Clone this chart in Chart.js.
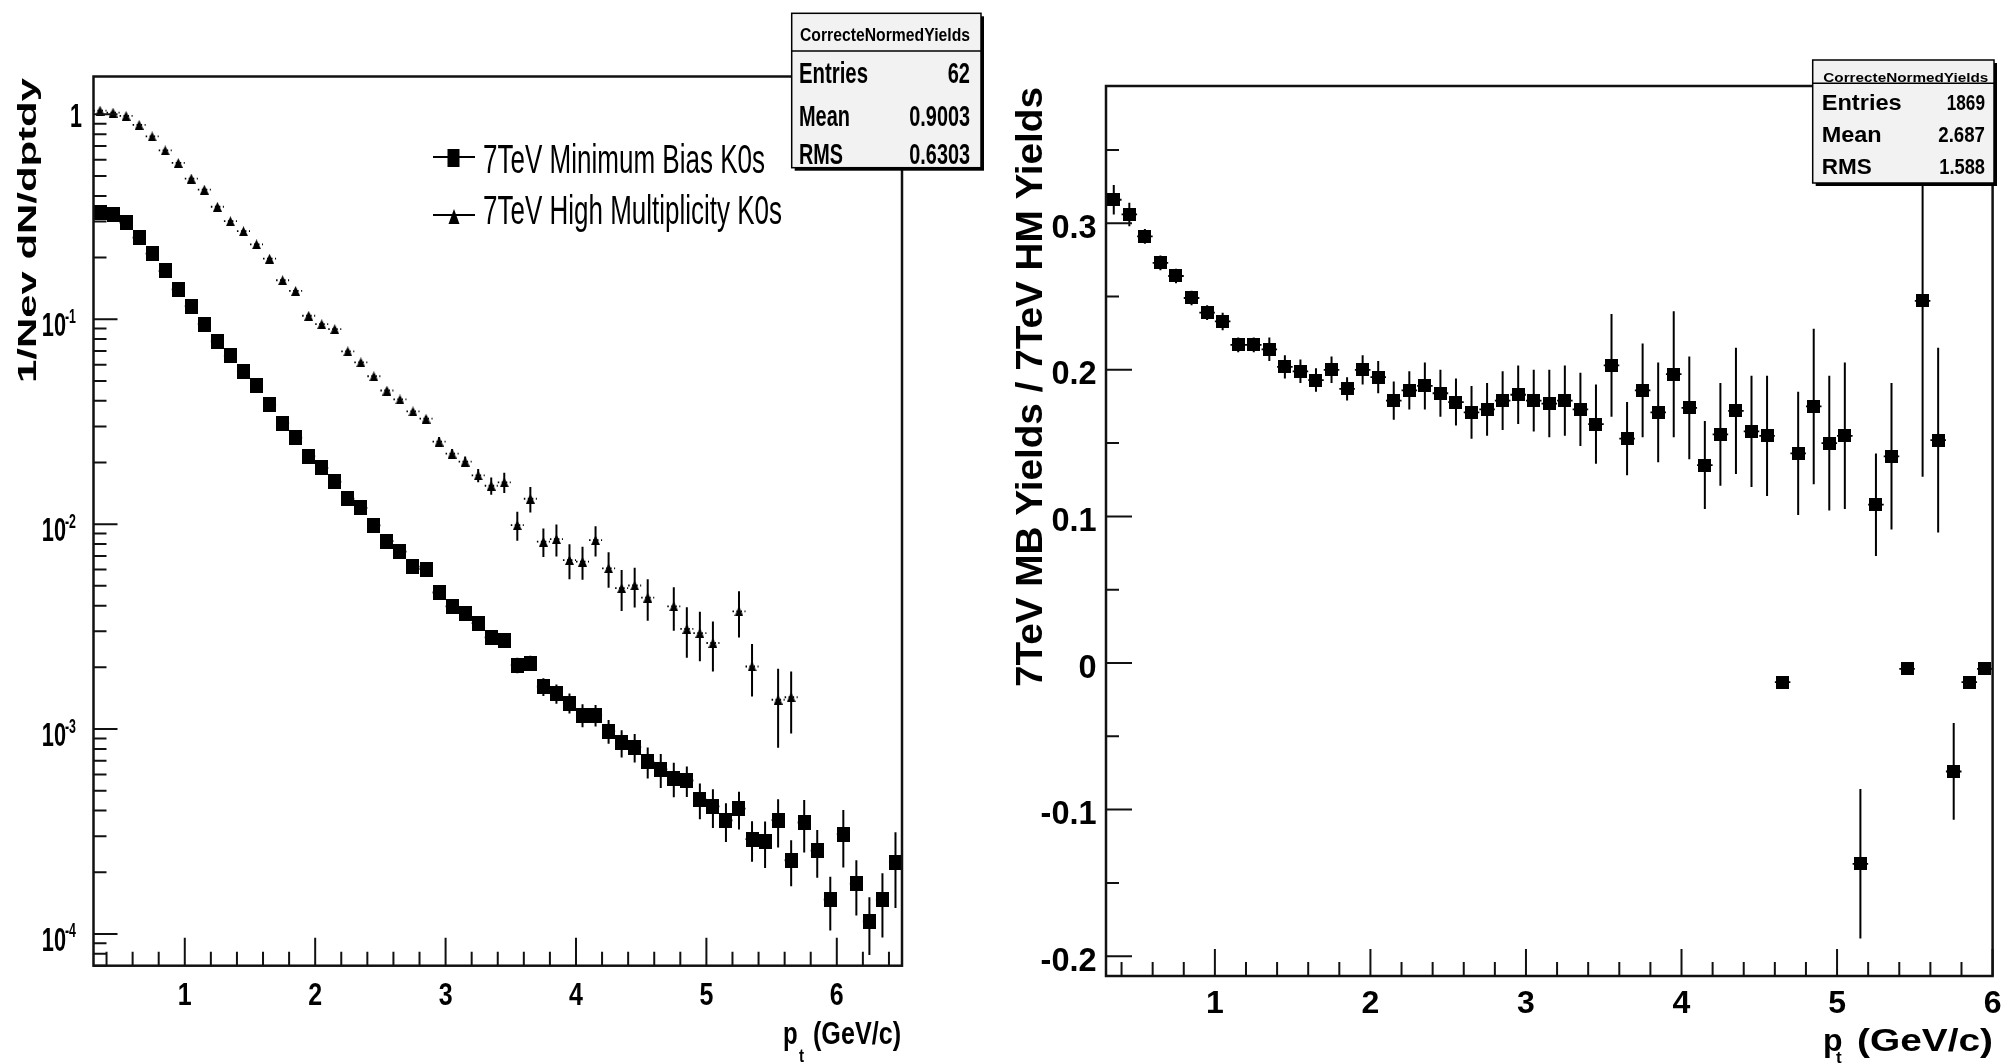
<!DOCTYPE html>
<html>
<head>
<meta charset="utf-8">
<script src="https://cdn.jsdelivr.net/npm/chart.js@4.4.1/dist/chart.umd.min.js"></script>
<style>
  html, body { margin: 0; padding: 0; background: #fff; }
  body { width: 2003px; height: 1063px; position: relative; overflow: hidden; }
  canvas { position: absolute; top: 0; }
  #left { left: 0; }
  #right { left: 1000px; }
</style>
</head>
<body>
<canvas id="left" width="1000" height="1063"></canvas>
<canvas id="right" width="1003" height="1063"></canvas>
<script>
// bin centres, pt in GeV/c
const ptLeft = [0.35, 0.45, 0.55, 0.65, 0.75, 0.85, 0.95, 1.05, 1.15, 1.25,
  1.35, 1.45, 1.55, 1.65, 1.75, 1.85, 1.95, 2.05, 2.15, 2.25,
  2.35, 2.45, 2.55, 2.65, 2.75, 2.85, 2.95, 3.05, 3.15, 3.25,
  3.35, 3.45, 3.55, 3.65, 3.75, 3.85, 3.95, 4.05, 4.15, 4.25,
  4.35, 4.45, 4.55, 4.65, 4.75, 4.85, 4.95, 5.05, 5.15, 5.25,
  5.35, 5.45, 5.55, 5.65, 5.75, 5.85, 5.95, 6.05, 6.15, 6.25,
  6.35, 6.45];

// 7TeV minimum bias K0s yields
const mbYield = [0.333, 0.324, 0.296, 0.250, 0.209, 0.172, 0.140, 0.116, 0.0946, 0.0780,
  0.0664, 0.0555, 0.0474, 0.0382, 0.0311, 0.0264, 0.0215, 0.0188, 0.0161, 0.0133,
  0.0120, 0.00987, 0.00826, 0.00734, 0.00621, 0.00604, 0.00464, 0.00397, 0.00368, 0.00329,
  0.00280, 0.00271, 0.00205, 0.00210, 0.00161, 0.00149, 0.00134, 0.00117, 0.00117, 0.000977,
  0.000857, 0.000817, 0.000693, 0.000636, 0.000575, 0.000561, 0.000453, 0.000419, 0.000358, 0.000409,
  0.000290, 0.000282, 0.000359, 0.000229, 0.000350, 0.000255, 0.000147, 0.000307, 0.000176, 0.000115,
  0.000147, 0.000224];
const mbErr = [0.005, 0.005, 0.0045, 0.004, 0.0035, 0.003, 0.0025, 0.002, 0.0018, 0.0015,
  0.0013, 0.0011, 0.001, 0.0008, 0.0007, 0.0006, 0.0005, 0.00045, 0.0004, 0.00035,
  0.0004, 0.00035, 0.0003, 0.00028, 0.00025, 0.00025, 0.00022, 0.0002, 0.0002, 0.00019,
  0.0002, 0.0002, 0.00018, 0.00018, 0.00016, 0.00016, 0.00015, 0.00015, 0.00014, 0.00013,
  0.00013, 0.00013, 0.00012, 0.00012, 0.00011, 0.000095, 0.00009, 0.00009, 0.000077, 0.000086,
  0.000065, 0.000072, 0.000095, 0.000058, 0.0001, 0.000067, 0.000043, 0.000096, 0.000053, 0.000036,
  0.000051, 0.00009];

// 7TeV high multiplicity K0s yields (null = bin not shown on log axis)
const hmYield = [1.043, 1.020, 0.983, 0.889, 0.780, 0.667, 0.579, 0.486, 0.429, 0.354,
  0.301, 0.269, 0.232, 0.1975, 0.155, 0.1375, 0.104, 0.0946, 0.0895, 0.0697,
  0.0616, 0.0527, 0.0449, 0.0406, 0.0355, 0.0327, 0.0253, 0.0221, 0.0202, 0.0173,
  0.0154, 0.0160, 0.00989, 0.0133, 0.00821, 0.00846, 0.00668, 0.00656, 0.00836, 0.00609,
  0.00487, 0.00502, 0.00438, null, 0.00397, 0.00308, 0.00294, 0.00263, null, 0.00375,
  0.00202, null, 0.00139, 0.00143, null, null, null, null, null, null,
  null, null];
const hmErr = [0.01, 0.01, 0.01, 0.009, 0.008, 0.007, 0.006, 0.005, 0.0045, 0.004,
  0.0035, 0.003, 0.0028, 0.0025, 0.002, 0.002, 0.0025, 0.0023, 0.0022, 0.0018,
  0.0016, 0.0014, 0.0012, 0.0011, 0.001, 0.001, 0.0013, 0.0012, 0.0012, 0.0013,
  0.0015, 0.0018, 0.0016, 0.0019, 0.0013, 0.0015, 0.0013, 0.0012, 0.0014, 0.0012,
  0.0011, 0.0011, 0.001, null, 0.00095, 0.00085, 0.0008, 0.00072, null, 0.00095,
  0.00058, null, 0.00058, 0.00048, null, null, null, null, null, null,
  null, null];

const ptRight = [0.35, 0.45, 0.55, 0.65, 0.75, 0.85, 0.95, 1.05, 1.15, 1.25,
  1.35, 1.45, 1.55, 1.65, 1.75, 1.85, 1.95, 2.05, 2.15, 2.25,
  2.35, 2.45, 2.55, 2.65, 2.75, 2.85, 2.95, 3.05, 3.15, 3.25,
  3.35, 3.45, 3.55, 3.65, 3.75, 3.85, 3.95, 4.05, 4.15, 4.25,
  4.35, 4.45, 4.55, 4.65, 4.75, 4.85, 4.95, 5.05, 5.15, 5.25,
  5.35, 5.45, 5.55, 5.65, 5.75, 5.85, 5.95];

// MB / HM ratio
const ratio = [0.316, 0.306, 0.291, 0.273, 0.264, 0.249, 0.239, 0.233, 0.217, 0.217,
  0.214, 0.202, 0.199, 0.193, 0.200, 0.187, 0.200, 0.195, 0.179, 0.186,
  0.189, 0.184, 0.178, 0.171, 0.173, 0.179, 0.183, 0.179, 0.177, 0.179,
  0.173, 0.163, 0.203, 0.153, 0.186, 0.171, 0.197, 0.174, 0.135, 0.156,
  0.172, 0.158, 0.155, -0.013, 0.143, 0.175, 0.150, 0.155, -0.137, 0.108,
  0.141, -0.004, 0.247, 0.152, -0.074, -0.013, -0.004];
const ratioErr = [0.010, 0.008, 0.005, 0.005, 0.005, 0.005, 0.005, 0.006, 0.005, 0.005,
  0.008, 0.008, 0.008, 0.008, 0.009, 0.008, 0.010, 0.011, 0.013, 0.013,
  0.016, 0.016, 0.016, 0.018, 0.018, 0.020, 0.020, 0.021, 0.023, 0.024,
  0.025, 0.027, 0.035, 0.025, 0.032, 0.034, 0.043, 0.035, 0.030, 0.035,
  0.043, 0.038, 0.041, 0.003, 0.042, 0.053, 0.046, 0.050, 0.051, 0.035,
  0.050, 0.003, 0.120, 0.063, 0.033, 0.003, 0.003];

// axis labels
const leftDecades = [0, -1, -2, -3, -4];
const xTickLabels = [1, 2, 3, 4, 5, 6];
const ratioTicks = [-0.2, -0.1, 0, 0.1, 0.2, 0.3];
const ratioTickText = ['-0.2', '-0.1', '0', '0.1', '0.2', '0.3'];

const legendNames = ['7TeV Minimum Bias K0s', '7TeV High Multiplicity K0s'];
const statsTitle = 'CorrecteNormedYields';
const statsLeft = [['Entries', '62'], ['Mean', '0.9003'], ['RMS', '0.6303']];
const statsRight = [['Entries', '1869'], ['Mean', '2.687'], ['RMS', '1.588']];

const FONT = '"Liberation Sans", Arial, Helvetica, sans-serif';

function pts(xs, ys, es) {
  const out = [];
  xs.forEach((x, i) => {
    if (ys[i] !== null) out.push({ x: x, y: ys[i], e: es[i] });
  });
  return out;
}

// small marker images (ROOT markers are not quite square here)
function boxMarker(w, h) {
  const c = document.createElement('canvas');
  c.width = w; c.height = h;
  const g = c.getContext('2d');
  g.fillStyle = '#000';
  g.fillRect(0, 0, w, h);
  return c;
}
function triMarker(w, h) {
  const c = document.createElement('canvas');
  c.width = w; c.height = h;
  const g = c.getContext('2d');
  g.fillStyle = '#000';
  g.beginPath();
  g.moveTo(w / 2, 0); g.lineTo(w, h); g.lineTo(0, h);
  g.closePath();
  g.fill();
  return c;
}

// text with its cap height centred on cy, optionally squeezed to a width
function label(ctx, s, x, cy, size, o) {
  o = o || {};
  ctx.save();
  ctx.font = (o.weight || 'bold') + ' ' + size + 'px ' + FONT;
  ctx.fillStyle = '#000';
  ctx.textBaseline = 'alphabetic';
  ctx.textAlign = 'left';
  const w = ctx.measureText(s).width;
  const sx = o.width ? o.width / w : (o.sx || 1);
  const ww = w * sx;
  let x0 = x;
  if (o.align === 'right') x0 = x - ww;
  else if (o.align === 'center') x0 = x - ww / 2;
  ctx.translate(x0, cy + 0.358 * size);
  ctx.scale(sx, 1);
  ctx.fillText(s, 0, 0);
  ctx.restore();
}

function vlabel(ctx, s, xBase, yStart, size, len) {
  ctx.save();
  ctx.font = 'bold ' + size + 'px ' + FONT;
  ctx.fillStyle = '#000';
  ctx.textBaseline = 'alphabetic';
  const w = ctx.measureText(s).width;
  ctx.translate(xBase, yStart);
  ctx.rotate(-Math.PI / 2);
  ctx.scale(len / w, 1);
  ctx.fillText(s, 0, 0);
  ctx.restore();
}

function statBox(ctx, b, rows) {
  ctx.save();
  ctx.fillStyle = '#000';
  ctx.fillRect(b.x + 3, b.y + 3, b.w, b.h);
  ctx.fillStyle = '#f2f2f2';
  ctx.fillRect(b.x, b.y, b.w, b.h);
  ctx.strokeStyle = '#000';
  ctx.lineWidth = 1.5;
  ctx.strokeRect(b.x, b.y, b.w, b.h);
  ctx.beginPath();
  ctx.moveTo(b.x, b.sep);
  ctx.lineTo(b.x + b.w, b.sep);
  ctx.stroke();
  ctx.restore();
  label(ctx, statsTitle, b.tx, b.ty, b.tsize, { weight: b.tweight, width: b.tw });
  rows.forEach((r, i) => {
    label(ctx, r[0], b.lx, b.rows[i], b.size, { width: b.lw[i] });
    label(ctx, r[1], b.rx, b.rows[i], b.size, { width: b.vw[i], align: 'right' });
  });
}

const errorBars = {
  id: 'errorBars',
  beforeDatasetsDraw(chart) {
    const ctx = chart.ctx, xs = chart.scales.x, ys = chart.scales.y, a = chart.chartArea;
    ctx.save();
    ctx.beginPath();
    ctx.rect(a.left, a.top, a.right - a.left, a.bottom - a.top);
    ctx.clip();
    ctx.strokeStyle = '#000';
    chart.data.datasets.forEach(ds => {
      ds.data.forEach(p => {
        const px = xs.getPixelForValue(p.x), py = ys.getPixelForValue(p.y);
        const lo = Math.max(p.y - p.e, ys.min), hi = Math.min(p.y + p.e, ys.max);
        ctx.lineWidth = 2;
        ctx.setLineDash([]);
        ctx.beginPath();
        ctx.moveTo(px, ys.getPixelForValue(lo));
        ctx.lineTo(px, ys.getPixelForValue(hi));
        ctx.stroke();
        ctx.setLineDash(ds.hDash || []);
        ctx.lineWidth = 1.8;
        ctx.beginPath();
        ctx.moveTo(xs.getPixelForValue(p.x - 0.05), py);
        ctx.lineTo(xs.getPixelForValue(p.x + 0.05), py);
        ctx.stroke();
      });
    });
    ctx.restore();
  }
};

const leftDecor = {
  id: 'leftDecor',
  afterDraw(chart) {
    const ctx = chart.ctx, a = chart.chartArea, xs = chart.scales.x, ys = chart.scales.y;
    ctx.save();
    ctx.strokeStyle = '#111';
    ctx.lineWidth = 2.5;
    ctx.strokeRect(a.left, a.top, a.right - a.left, a.bottom - a.top);
    ctx.lineWidth = 2;
    ctx.beginPath();
    for (let d = -5; d <= 0; d++) {
      for (let m = 1; m <= 9; m++) {
        const v = m * Math.pow(10, d);
        if (v < ys.min || v > ys.max) continue;
        const py = ys.getPixelForValue(v);
        ctx.moveTo(a.left, py);
        ctx.lineTo(a.left + (m === 1 ? 24 : 13), py);
      }
    }
    for (let k = 2; k <= 32; k++) {
      const v = k * 0.2;
      if (v < xs.min || v > xs.max) continue;
      const px = xs.getPixelForValue(v);
      ctx.moveTo(px, a.bottom);
      ctx.lineTo(px, a.bottom - (k % 5 === 0 ? 28 : 14));
    }
    ctx.stroke();
    ctx.restore();

    leftDecades.forEach(n => {
      const py = ys.getPixelForValue(Math.pow(10, n));
      if (n === 0) {
        label(ctx, '1', 82, py + 1, 33, { sx: 0.65, align: 'right' });
      } else {
        label(ctx, '10', 66, py + 5, 34, { sx: 0.64, align: 'right' });
        label(ctx, String(n), 65, py - 4, 21, { width: 11 });
      }
    });
    xTickLabels.forEach(v => {
      label(ctx, String(v), xs.getPixelForValue(v), 994, 32, { sx: 0.78, align: 'center' });
    });
    label(ctx, 'p', 783, 1033, 32, { sx: 0.75 });
    label(ctx, 't', 799, 1055, 19, { sx: 0.8 });
    label(ctx, '(GeV/c)', 813, 1033, 32, { width: 88 });
    vlabel(ctx, '1/Nev dN/dptdy', 35.6, 383, 25, 305);

    // legend
    ctx.save();
    ctx.strokeStyle = '#000';
    ctx.fillStyle = '#000';
    ctx.lineWidth = 2;
    ctx.beginPath();
    ctx.moveTo(433, 157); ctx.lineTo(475, 157);
    ctx.moveTo(433, 215); ctx.lineTo(475, 215);
    ctx.stroke();
    ctx.fillRect(447.5, 149, 12, 18);
    ctx.beginPath();
    ctx.moveTo(454, 209); ctx.lineTo(459.5, 224); ctx.lineTo(448.5, 224);
    ctx.closePath();
    ctx.fill();
    ctx.restore();
    label(ctx, legendNames[0], 483, 159, 40, { weight: 'normal', width: 282 });
    label(ctx, legendNames[1], 483, 210, 40, { weight: 'normal', width: 299 });

    statBox(ctx, {
      x: 791.7, y: 13.3, w: 189.3, h: 154.4, sep: 51,
      tx: 800, ty: 33.7, tsize: 19, tweight: 'bold', tw: 170,
      lx: 799, rx: 970, size: 30, rows: [72.5, 115, 153.3],
      lw: [69, 51, 44], vw: [22.3, 60.7, 60.7]
    }, statsLeft);
  }
};

const rightDecor = {
  id: 'rightDecor',
  afterDraw(chart) {
    const ctx = chart.ctx, a = chart.chartArea, xs = chart.scales.x, ys = chart.scales.y;
    ctx.save();
    ctx.strokeStyle = '#111';
    ctx.lineWidth = 2.5;
    ctx.strokeRect(a.left, a.top, a.right - a.left, a.bottom - a.top);
    ctx.lineWidth = 2;
    ctx.beginPath();
    for (let k = -4; k <= 7; k++) {
      const v = k * 0.05;
      if (v < ys.min || v > ys.max) continue;
      const py = ys.getPixelForValue(v);
      ctx.moveTo(a.left, py);
      ctx.lineTo(a.left + (k % 2 === 0 ? 26 : 13), py);
    }
    for (let k = 2; k <= 30; k++) {
      const v = k * 0.2;
      if (v < xs.min || v > xs.max) continue;
      const px = xs.getPixelForValue(v);
      ctx.moveTo(px, a.bottom);
      ctx.lineTo(px, a.bottom - (k % 5 === 0 ? 27 : 14));
    }
    ctx.stroke();
    ctx.restore();

    ratioTicks.forEach((v, i) => {
      label(ctx, ratioTickText[i], 96.6, ys.getPixelForValue(v) + 3, 32.5, { align: 'right' });
    });
    xTickLabels.forEach(v => {
      label(ctx, String(v), xs.getPixelForValue(v), 1002, 32, { align: 'center' });
    });
    label(ctx, 'p', 823, 1040, 32, {});
    label(ctx, 't', 836, 1057, 17, {});
    label(ctx, '(GeV/c)', 857, 1040, 31, { width: 136 });
    vlabel(ctx, '7TeV MB Yields / 7TeV HM Yields', 42, 687, 36, 600);

    statBox(ctx, {
      x: 812.7, y: 60, w: 181.3, h: 123, sep: 83.3,
      tx: 823.3, ty: 77, tsize: 13.5, tweight: 'bold', tw: 165,
      lx: 821.7, rx: 985, size: 22, rows: [102.5, 134, 165.8],
      lw: [80, 60, 50], vw: [38.3, 46.7, 45.7]
    }, statsRight);
  }
};

const common = {
  responsive: false,
  animation: false,
  devicePixelRatio: 1,
  events: [],
  plugins: { legend: { display: false }, tooltip: { enabled: false } }
};

new Chart(document.getElementById('left'), {
  type: 'scatter',
  data: {
    datasets: [
      {
        label: legendNames[1],
        data: pts(ptLeft, hmYield, hmErr),
        pointStyle: triMarker(9, 10),
        pointRadius: 6,
        backgroundColor: '#000',
        borderWidth: 0,
        hDash: [1.5, 2.5]
      },
      {
        label: legendNames[0],
        data: pts(ptLeft, mbYield, mbErr),
        pointStyle: boxMarker(13, 15),
        pointRadius: 8,
        backgroundColor: '#000',
        borderWidth: 0
      }
    ]
  },
  options: Object.assign({}, common, {
    layout: { padding: { left: 93.5, top: 76.5, right: 98, bottom: 97.3 } },
    scales: {
      x: { type: 'linear', min: 0.3, max: 6.5, display: false },
      y: { type: 'logarithmic', min: 7.24e-5, max: 1.53, display: false }
    }
  }),
  plugins: [errorBars, leftDecor]
});

new Chart(document.getElementById('right'), {
  type: 'scatter',
  data: {
    datasets: [
      {
        label: 'MB / HM',
        data: pts(ptRight, ratio, ratioErr),
        pointStyle: boxMarker(13, 13),
        pointRadius: 8,
        backgroundColor: '#000',
        borderWidth: 0
      }
    ]
  },
  options: Object.assign({}, common, {
    layout: { padding: { left: 106, top: 86, right: 10.4, bottom: 87 } },
    scales: {
      x: { type: 'linear', min: 0.3, max: 6.0, display: false },
      y: { type: 'linear', min: -0.2135, max: 0.3936, display: false }
    }
  }),
  plugins: [errorBars, rightDecor]
});
</script>
</body>
</html>
